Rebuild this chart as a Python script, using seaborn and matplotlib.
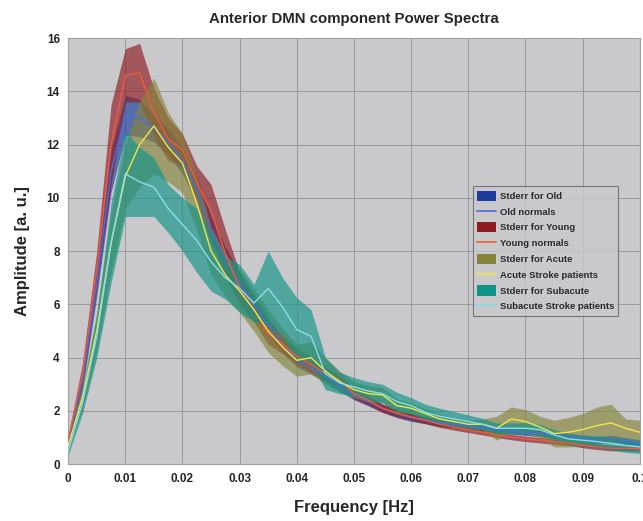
import numpy as np
import pandas as pd
import matplotlib
matplotlib.use("Agg")
import matplotlib.pyplot as plt
import seaborn as sns
from matplotlib.patches import Patch
from matplotlib.lines import Line2D

freq = [i * 0.0025 for i in range(41)]

old_mean = [0.8, 3.1, 6.8, 11.0, 13.1, 13.0, 12.6, 12.1, 11.4, 10.3, 8.8, 7.7, 6.8, 6.0, 5.2,
            4.5, 3.9, 3.6, 3.3, 2.95, 2.6, 2.35, 2.1, 1.9, 1.75, 1.65, 1.55, 1.5, 1.45, 1.38,
            1.3, 1.25, 1.2, 1.15, 1.1, 1.05, 0.95, 0.9, 0.97, 0.88, 0.8]
old_err = [0.1, 0.3, 0.5, 0.8, 0.75, 0.7, 0.5, 0.5, 0.5, 0.5, 0.5, 0.45, 0.4, 0.35, 0.3,
           0.3, 0.25, 0.22, 0.2, 0.2, 0.18, 0.16, 0.15, 0.15, 0.14, 0.13, 0.13, 0.12, 0.12, 0.12,
           0.12, 0.12, 0.12, 0.12, 0.12, 0.12, 0.12, 0.12, 0.12, 0.12, 0.12]

young_mean = [0.9, 3.4, 7.3, 12.0, 14.6, 14.7, 13.2, 12.2, 11.8, 10.6, 9.5, 7.9, 6.6, 5.8, 4.9,
              4.5, 4.05, 3.75, 3.4, 3.15, 2.65, 2.4, 2.1, 1.92, 1.78, 1.65, 1.5, 1.4, 1.3, 1.2,
              1.1, 1.02, 0.95, 0.9, 0.85, 0.8, 0.72, 0.65, 0.6, 0.6, 0.58]
young_err = [0.15, 0.4, 0.7, 1.5, 1.0, 1.1, 0.9, 0.8, 0.6, 0.6, 1.0, 0.9, 0.6, 0.45, 0.4,
             0.35, 0.3, 0.3, 0.25, 0.22, 0.2, 0.18, 0.16, 0.15, 0.14, 0.13, 0.12, 0.12, 0.11, 0.1,
             0.1, 0.1, 0.1, 0.1, 0.1, 0.1, 0.1, 0.1, 0.1, 0.1, 0.1]

acute_mean = [0.7, 2.5, 5.0, 8.3, 10.8, 12.0, 12.7, 11.9, 11.3, 9.8, 8.0, 7.1, 6.5, 5.8, 5.0,
              4.4, 3.9, 4.0, 3.5, 3.1, 2.8, 2.65, 2.6, 2.2, 2.1, 1.9, 1.7, 1.6, 1.5, 1.5,
              1.35, 1.7, 1.6, 1.4, 1.15, 1.2, 1.3, 1.45, 1.55, 1.35, 1.2]
acute_err = [0.15, 0.4, 0.7, 1.1, 1.2, 1.6, 1.8, 1.3, 1.1, 1.0, 0.9, 0.8, 0.8, 0.8, 0.8,
             0.7, 0.6, 0.6, 0.5, 0.4, 0.3, 0.3, 0.28, 0.25, 0.2, 0.18, 0.18, 0.15, 0.15, 0.2,
             0.45, 0.45, 0.45, 0.4, 0.5, 0.55, 0.6, 0.7, 0.7, 0.35, 0.45]

sub_mean = [0.5, 2.3, 4.8, 8.3, 10.9, 10.6, 10.4, 9.6, 9.0, 8.4, 7.6, 7.0, 6.6, 6.05, 6.6,
            5.9, 5.05, 4.8, 3.4, 3.05, 2.9, 2.75, 2.65, 2.35, 2.2, 1.95, 1.8, 1.7, 1.6, 1.5,
            1.35, 1.35, 1.35, 1.3, 1.1, 0.95, 0.9, 0.85, 0.78, 0.7, 0.65]
sub_err = [0.15, 0.4, 0.8, 1.5, 1.6, 1.3, 1.1, 0.9, 1.0, 1.2, 1.1, 0.8, 0.9, 0.7, 1.4,
           1.1, 1.2, 1.0, 0.6, 0.4, 0.35, 0.35, 0.35, 0.35, 0.3, 0.3, 0.3, 0.28, 0.25, 0.22,
           0.2, 0.2, 0.2, 0.2, 0.2, 0.2, 0.2, 0.22, 0.25, 0.25, 0.25]

x_ticks = [0, 0.01, 0.02, 0.03, 0.04, 0.05, 0.06, 0.07, 0.08, 0.09, 0.1]
x_tick_labels = ["0", "0.01", "0.02", "0.03", "0.04", "0.05", "0.06", "0.07", "0.08", "0.09", "0.1"]
y_ticks = [0, 2, 4, 6, 8, 10, 12, 14, 16]

groups = [
    ("Stderr for Old", "Old normals", old_mean, old_err, "#1c3c9c", "#4a6ee0"),
    ("Stderr for Young", "Young normals", young_mean, young_err, "#8e1a22", "#f05a3a"),
    ("Stderr for Acute", "Acute Stroke patients", acute_mean, acute_err, "#85853a", "#f2e64a"),
    ("Stderr for Subacute", "Subacute Stroke patients", sub_mean, sub_err, "#0f9488", "#8ddbe8"),
]

sns.set_theme(style="white")
plt.rcParams['font.family'] = ['Liberation Sans', 'DejaVu Sans']

fig = plt.figure(figsize=(6.43, 5.21), dpi=100)
ax = fig.add_axes([0.106, 0.109, 0.889, 0.818])
bg = "#c9c9cc"
ax.set_facecolor(bg)

handles = []
f = np.array(freq)
for band_lab, line_lab, m, e, bc, lc in groups:
    m = np.array(m); e = np.array(e)
    ax.fill_between(f, m - e, m + e, color=bc, alpha=0.65, linewidth=0, zorder=2)
    df = pd.DataFrame({"freq": f, "amp": m})
    sns.lineplot(data=df, x="freq", y="amp", ax=ax, color=lc, linewidth=1.0, zorder=3)
    handles.append(Patch(facecolor=bc, edgecolor="none", label=band_lab))
    handles.append(Line2D([0], [0], color=lc, linewidth=1.2, label=line_lab))

ax.set_xlim(0, 0.1)
ax.set_ylim(0, 16)
ax.set_xticks(x_ticks)
ax.set_xticklabels(x_tick_labels)
ax.set_yticks(y_ticks)
ax.grid(True, color="#8f8f94", linewidth=0.7, linestyle="-", alpha=0.8)
ax.set_axisbelow(True)
for s in ax.spines.values():
    s.set_color("#a0a0a4")
    s.set_linewidth(0.8)
ax.tick_params(axis="both", length=0, labelsize=8.5, pad=6)
for lab in ax.get_xticklabels() + ax.get_yticklabels():
    lab.set_fontweight("bold")

ax.set_xlabel("Frequency [Hz]", fontsize=12, fontweight="bold", labelpad=11)
ax.set_ylabel("Amplitude [a. u.]", fontsize=12, fontweight="bold", labelpad=12)
ax.set_title("Anterior DMN component Power Spectra", fontsize=10.8, fontweight="bold", pad=11)

leg = ax.legend(handles=handles, loc="upper left", bbox_to_anchor=(0.708, 0.652),
                fontsize=6.8, frameon=True, fancybox=False, facecolor=bg,
                edgecolor="#606064", handlelength=2.0, handleheight=1.3,
                borderpad=0.45, labelspacing=0.58, handletextpad=0.4, borderaxespad=0)
leg.get_frame().set_linewidth(0.8)
for t in leg.get_texts():
    t.set_fontweight("bold")
    t.set_color("#2a2a2a")

fig.savefig("out.png", dpi=100, facecolor="white")
